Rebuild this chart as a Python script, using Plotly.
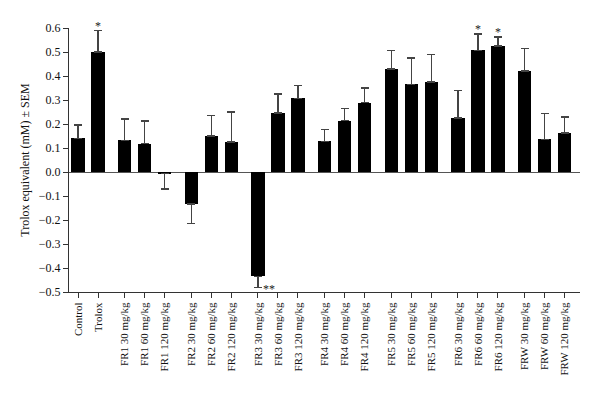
import plotly.graph_objects as go

groups = [
    ["Control", "Trolox"],
    ["FR1 30 mg/kg", "FR1 60 mg/kg", "FR1 120 mg/kg"],
    ["FR2 30 mg/kg", "FR2 60 mg/kg", "FR2 120 mg/kg"],
    ["FR3 30 mg/kg", "FR3 60 mg/kg", "FR3 120 mg/kg"],
    ["FR4 30 mg/kg", "FR4 60 mg/kg", "FR4 120 mg/kg"],
    ["FR5 30 mg/kg", "FR5 60 mg/kg", "FR5 120 mg/kg"],
    ["FR6 30 mg/kg", "FR6 60 mg/kg", "FR6 120 mg/kg"],
    ["FRW 30 mg/kg", "FRW 60 mg/kg", "FRW 120 mg/kg"],
]
values = [0.140, 0.500,
          0.132, 0.118, -0.006,
          -0.133, 0.151, 0.124,
          -0.435, 0.246, 0.307,
          0.128, 0.214, 0.289,
          0.429, 0.365, 0.374,
          0.224, 0.507, 0.526,
          0.421, 0.136, 0.162]
sem = [0.056, 0.089,
       0.088, 0.095, 0.064,
       0.082, 0.085, 0.126,
       0.047, 0.079, 0.054,
       0.050, 0.051, 0.061,
       0.078, 0.111, 0.116,
       0.116, 0.067, 0.037,
       0.093, 0.107, 0.067]
signif = {"Trolox": "*", "FR6 60 mg/kg": "*", "FR6 120 mg/kg": "*", "FR3 30 mg/kg": "**"}

GROUP_GAP = 1/3
labels, xs = [], []
idx = 0
for g, items in enumerate(groups):
    for name in items:
        labels.append(name)
        xs.append(idx + g * GROUP_GAP)
        idx += 1

err_plus = [s if v >= 0 else 0 for v, s in zip(values, sem)]
err_minus = [s if v < 0 else 0 for v, s in zip(values, sem)]

FONT = "Liberation Serif, Times New Roman, serif"

fig = go.Figure()
fig.add_trace(go.Bar(
    x=xs, y=values, width=0.67,
    marker=dict(color="black", line=dict(width=0)),
    error_y=dict(type="data", symmetric=False, array=err_plus, arrayminus=err_minus,
                 color="#444444", thickness=1.5, width=4),
    showlegend=False,
))

for name, mark in signif.items():
    i = labels.index(name)
    v, s = values[i], sem[i]
    if v >= 0:
        fig.add_annotation(x=xs[i], y=v + s, text=mark, showarrow=False,
                           yanchor="bottom", yshift=-4, font=dict(family=FONT, size=12, color="#222"))
    else:
        fig.add_annotation(x=xs[i], y=v - s, text=mark, showarrow=False,
                           xanchor="left", xshift=3, yanchor="middle", yshift=-1,
                           font=dict(family=FONT, size=12, color="#222"))

fig.update_layout(
    width=600, height=397,
    margin=dict(l=61, r=28, t=20, b=113),
    plot_bgcolor="white", paper_bgcolor="white",
    font=dict(family=FONT, size=12, color="#111"),
    bargap=0,
)
fig.update_xaxes(
    range=[-0.45, xs[-1] + 0.77],
    tickmode="array", tickvals=xs, ticktext=labels, tickangle=-90,
    tickfont=dict(family=FONT, size=11, color="#111"),
    showline=True, linecolor="#333", linewidth=1,
    ticks="outside", ticklen=5, tickcolor="#333", tickwidth=1,
    showgrid=False, zeroline=False, automargin=False,
)
fig.update_yaxes(
    range=[-0.5, 0.6], tickmode="array",
    tickvals=[-0.5, -0.4, -0.3, -0.2, -0.1, 0.0, 0.1, 0.2, 0.3, 0.4, 0.5, 0.6],
    ticktext=["\u22120.5", "\u22120.4", "\u22120.3", "\u22120.2", "\u22120.1", "0.0",
              "0.1", "0.2", "0.3", "0.4", "0.5", "0.6"],
    tickfont=dict(family=FONT, size=12, color="#111"),
    showline=True, linecolor="#333", linewidth=1,
    ticks="outside", ticklen=5, tickcolor="#333", tickwidth=1,
    showgrid=False, zeroline=True, zerolinecolor="#555", zerolinewidth=1,
    automargin=False,
    title=dict(text="Trolox equivalent (mM) \u00b1 SEM", font=dict(family=FONT, size=12, color="#111"),
               standoff=6),
)

fig.write_html("out.html")
